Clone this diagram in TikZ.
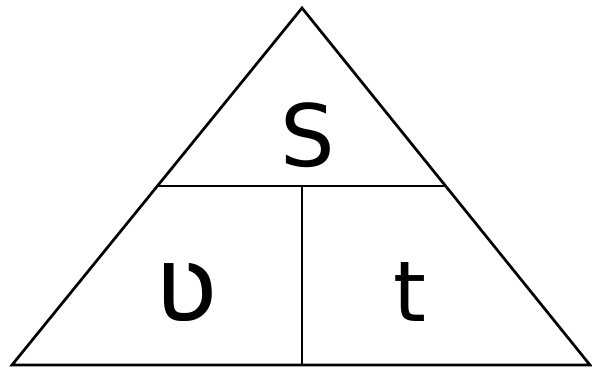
\documentclass[tikz,border=0pt]{standalone}
\usepackage{fontspec}
\setmainfont{DejaVu Sans}
\tikzset{edge/.style={line width=2.7pt, line join=miter, black},
  letter/.style={inner sep=0pt, anchor=base}}
\begin{document}
\begin{tikzpicture}[x=1pt,y=-1pt]
\useasboundingbox (0,0) rectangle (592,369);
\coordinate (A) at (302,8);
\coordinate (L) at (12,365);
\coordinate (R) at (590,365);
\coordinate (ML) at (157.4,186);
\coordinate (MR) at (445.6,186);
\coordinate (MM) at (302,186);
\coordinate (BM) at (302,365);
\draw[edge] (A) -- (L) -- (R) -- cycle;
\draw[edge] (ML) -- (MR);
\draw[edge] (MM) -- (BM);
\node[letter] (s) at (308,166) {\fontsize{86}{90}\selectfont S};
\node[letter] (v) at (186,321) {\fontsize{106}{110}\selectfont ʋ};
\node[letter] (t) at (410,321) {\fontsize{84}{90}\selectfont t};
\end{tikzpicture}
\end{document}
